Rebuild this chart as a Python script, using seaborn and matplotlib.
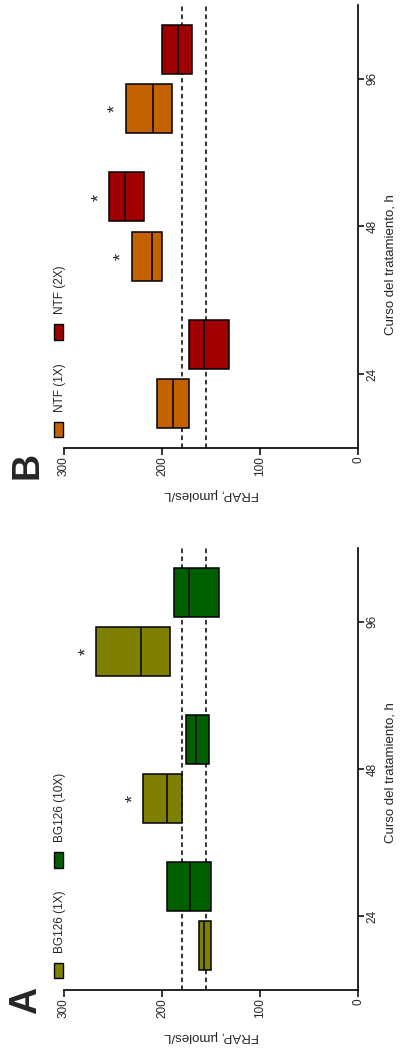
import numpy as np
import pandas as pd
import matplotlib
matplotlib.use("Agg")
import matplotlib.pyplot as plt
from matplotlib.patches import Rectangle
import seaborn as sns

# ---------------- data ----------------
times = ["24", "48", "96"]

# Panel A: BG126
a_series = ["BG126 (1X)", "BG126 (10X)"]
a1_low = [150, 180, 192]
a1_med = [157, 195, 221]
a1_high = [162, 219, 267]
a1_sig = [False, True, True]
a10_low = [150, 152, 142]
a10_med = [171, 165, 172]
a10_high = [195, 175, 188]
a10_sig = [False, False, False]

# Panel B: NTF
b_series = ["NTF (1X)", "NTF (2X)"]
b1_low = [172, 200, 190]
b1_med = [189, 210, 209]
b1_high = [205, 231, 237]
b1_sig = [False, True, True]
b2_low = [132, 218, 169]
b2_med = [157, 238, 184]
b2_high = [172, 254, 200]
b2_sig = [False, True, False]

ref_lines = [180, 155]
frap_ticks = [300, 200, 100, 0]

a_colors = ["#808000", "#006000"]
b_colors = ["#C46200", "#A00000"]

# ---------------- style ----------------
sns.set_theme(style="white")
plt.rcParams["font.family"] = ["Liberation Sans", "DejaVu Sans"]


def long_df(series, lows, meds, highs):
    rows = []
    for name, lo, me, hi in zip(series, lows, meds, highs):
        for t, l, m, h in zip(times, lo, me, hi):
            for v in (l, l, m, h, h):
                rows.append({"time": t, "group": name, "frap": v})
    return pd.DataFrame(rows)


W, H = 403, 1051
fig = plt.figure(figsize=(W / 100, H / 100), dpi=100)


def fx(px):
    return px / W


def fy(py):
    return (H - py) / H


def panel(ax_rect, series, lows, meds, highs, sigs, colors, letter, letter_xy,
          legend_y, xlabel_y, ylabel_pos):
    ax = fig.add_axes(ax_rect)
    df = long_df(series, lows, meds, highs)
    sns.boxplot(data=df, x="frap", y="time", hue="group", orient="y",
                order=times, hue_order=series, palette=colors, saturation=1,
                width=0.8, gap=0.17, linecolor="black", linewidth=1.1,
                whis=0, showcaps=False, showfliers=False, legend=False, ax=ax)
    for v in ref_lines:
        ax.axvline(v, color="black", lw=1.1, ls=(0, (3, 2.2)), zorder=0.5)
    # significance stars
    offs = [-0.2, 0.2]
    for k, (hi_s, sg) in enumerate(zip(highs, sigs)):
        for i, (h, s) in enumerate(zip(hi_s, sg)):
            if s:
                ax.text(h + 10, i + offs[k], "*", rotation=90, ha="center",
                        va="center", fontsize=13)
    ax.set_xlim(300, 0)
    ax.set_ylim(-0.5, 2.5)
    ax.set_xticks(frap_ticks)
    ax.set_xticklabels([str(t) for t in frap_ticks], rotation=90, fontsize=8.5)
    ax.yaxis.tick_right()
    ax.yaxis.set_label_position("right")
    ax.set_yticks(range(len(times)))
    ax.set_yticklabels(times, rotation=90, va="center", fontsize=8.5)
    ax.tick_params(axis="x", direction="out", length=5, width=1.1, pad=1,
                   color="black", bottom=True)
    ax.tick_params(axis="y", direction="out", length=4, width=1.1, pad=2,
                   color="black", right=True, left=False)
    for s in ["top", "left"]:
        ax.spines[s].set_visible(False)
    for s in ["bottom", "right"]:
        ax.spines[s].set_color("black")
        ax.spines[s].set_linewidth(1.2)
    ax.set_xlabel("")
    ax.set_ylabel("Curso del tratamiento, h", rotation=90, fontsize=9.5)
    ax.yaxis.set_label_coords(ylabel_pos[0], ylabel_pos[1])
    ax.yaxis.label.set_va("center")
    ax.yaxis.label.set_ha("center")
    ax.text(0.503, xlabel_y, "FRAP, µmoles/L", rotation=180, ha="center",
            va="center", fontsize=9.5, transform=ax.transAxes)
    # legend
    for (sq_top, sq_bot), name, c in zip(legend_y, series, colors):
        fig.patches.append(Rectangle((fx(54), fy(sq_bot)), fx(9), (sq_bot - sq_top) / H,
                                     facecolor=c, edgecolor="black", lw=1.0,
                                     transform=fig.transFigure, figure=fig))
        fig.text(fx(60), fy(sq_top - 10), name, rotation=90, ha="center",
                 va="bottom", fontsize=8.5)
    fig.text(fx(letter_xy[0]), fy(letter_xy[1]), letter, rotation=90,
             ha="center", va="center", fontsize=27, fontweight="bold")
    return ax


# Panel A (bottom)
panel([fx(64), fy(990), fx(294), 442 / H], a_series, [a1_low, a10_low],
      [a1_med, a10_med], [a1_high, a10_high], [a1_sig, a10_sig], a_colors,
      "A", (26, 1000), [(963, 978), (852, 868)], -0.104, (1.109, 0.493))

# Panel B (top)
panel([fx(64), fy(448), fx(294), 443 / H], b_series, [b1_low, b2_low],
      [b1_med, b2_med], [b1_high, b2_high], [b1_sig, b2_sig], b_colors,
      "B", (27, 465), [(422, 437), (324, 340)], -0.104, (1.109, 0.413))

fig.savefig("out.png", dpi=100)
